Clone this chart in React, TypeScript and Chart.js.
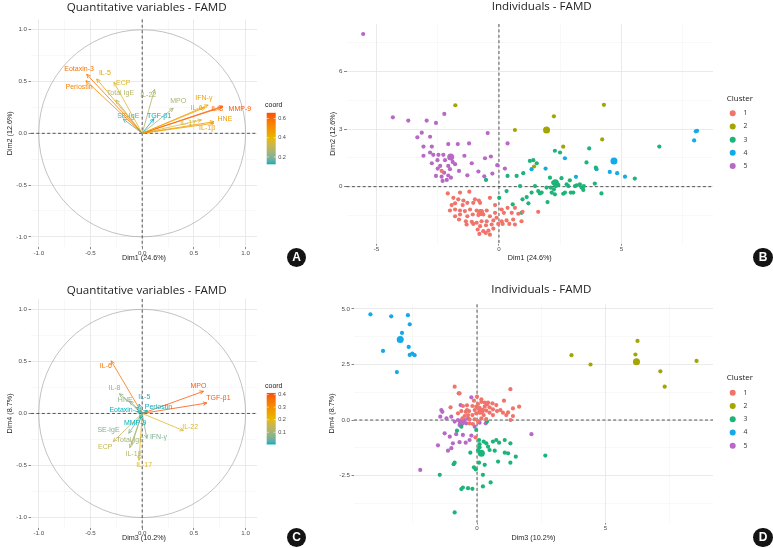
import React, { useEffect, useRef } from "react";
import { Chart, registerables } from "chart.js";
Chart.register(...registerables);

type Pt = [number, number];

// ---------------- Variables (panels A and C) ----------------
const varNames = ["Eotaxin-3", "Periostin", "IL-5", "ECP", "Total IgE", "SE-IgE", "IL-22", "MPO", "TGF-β1", "IFN-γ", "IL-6", "IL-8", "MMP-9", "HNE", "IL-1β", "IL-17"];

// Panel A: Dim1 / Dim2
const dim1 = [-0.537, -0.544, -0.44, -0.273, -0.254, -0.184, 0.12, 0.3, 0.113, 0.638, 0.606, 0.767, 0.78, 0.693, 0.693, 0.574];
const dim2 = [0.57, 0.508, 0.525, 0.493, 0.322, 0.138, 0.425, 0.242, 0.141, 0.273, 0.248, 0.25, 0.262, 0.112, 0.097, 0.129];
const coordA = [0.58, 0.54, 0.455, 0.365, 0.285, 0.15, 0.274, 0.258, 0.124, 0.455, 0.445, 0.61, 0.645, 0.477, 0.47, 0.36];
const labelAx = [-0.61, -0.61, -0.36, -0.183, -0.21, -0.135, 0.058, 0.348, 0.164, 0.596, 0.525, 0.725, 0.944, 0.8, 0.628, 0.444];
const labelAy = [0.62, 0.45, 0.58, 0.483, 0.386, 0.17, 0.37, 0.312, 0.17, 0.338, 0.245, 0.232, 0.232, 0.135, 0.048, 0.097];
const coordDomainA: Pt = [0.124, 0.659];
const coordTicksA = [0.2, 0.4, 0.6];

// Panel C: Dim3 / Dim4
const dim3 = [-0.05, 0.05, -0.03, -0.28, -0.1, -0.13, 0.4, 0.592, 0.625, 0.045, -0.3, -0.22, -0.02, -0.12, -0.12, -0.03];
const dim4 = [0.02, 0.03, 0.09, -0.27, -0.3, -0.19, -0.165, 0.213, 0.1, -0.24, 0.505, 0.19, -0.05, 0.12, -0.33, -0.45];
const coordC = [0.003, 0.004, 0.01, 0.15, 0.1, 0.06, 0.187, 0.396, 0.4, 0.06, 0.345, 0.085, 0.003, 0.07, 0.123, 0.2];
const labelCx = [-0.174, 0.157, 0.02, -0.357, -0.116, -0.326, 0.464, 0.544, 0.737, 0.157, -0.351, -0.268, -0.068, -0.164, -0.084, 0.019];
const labelCy = [0.036, 0.061, 0.157, -0.319, -0.254, -0.164, -0.132, 0.264, 0.152, -0.222, 0.454, 0.248, -0.09, 0.132, -0.389, -0.496];
const coordDomainC: Pt = [0.003, 0.413];
const coordTicksC = [0.1, 0.2, 0.3, 0.4];

const varMajor = [-1, -0.5, 0, 0.5, 1];
const varMinor = [-0.75, -0.25, 0.25, 0.75];

// ---------------- Individuals (panels B and D) ----------------
const clusterNames = ["1", "2", "3", "4", "5"];
const clusterColors = ["#F0746B", "#A3A500", "#1DB47A", "#12AAE8", "#B868C6"];

// Panel B: Dim1 / Dim2
const clusterB1: Pt[] = [
  [-2.09, -0.35], [-1.59, -0.31], [-1.21, -0.26], [-1.86, -0.58], [-1.66, -0.66], [-1.45, -0.72], [-0.98, -0.66], [-0.82, -0.72],
  [-0.37, -0.58], [-1.79, -0.87], [-1.29, -0.84], [-1.05, -0.84], [-0.77, -0.84], [-2.0, -1.24], [-1.79, -1.19], [-1.59, -1.24],
  [-1.39, -1.27], [-1.18, -1.19], [-0.91, -1.24], [-0.71, -1.27], [-0.5, -1.24], [-0.16, -1.36], [0.11, -1.19], [0.35, -1.1],
  [0.65, -1.1], [-1.79, -1.54], [-1.59, -1.45], [-1.29, -1.54], [-1.07, -1.45], [-0.84, -1.48], [-0.64, -1.45], [-0.37, -1.54],
  [-0.1, -1.62], [0.2, -1.36], [0.52, -1.36], [0.79, -1.41], [0.96, -1.31], [-1.63, -1.71], [-1.35, -1.8], [-1.11, -1.83],
  [-0.91, -1.88], [-0.71, -1.8], [-0.5, -1.8], [-0.23, -1.76], [0.11, -1.8], [0.31, -1.76], [0.58, -1.71], [0.92, -1.8],
  [-1.32, -1.97], [-1.05, -1.94], [-0.77, -2.06], [-0.53, -2.01], [-0.3, -1.97], [-0.03, -1.94], [0.15, -1.94], [0.42, -1.94],
  [0.65, -1.97], [-0.87, -2.23], [-0.64, -2.32], [-0.43, -2.29], [-0.23, -2.18], [-0.8, -2.46], [-0.54, -2.41], [-0.37, -2.5],
  [1.6, -1.31], [-2.34, 0.82], [-1.93, -0.96], [-0.16, -0.96], [-1.48, -0.96],
];
const clusterB2: Pt[] = [[-1.78, 4.24], [0.65, 2.95], [2.24, 3.66], [2.62, 2.08], [4.28, 4.26], [4.21, 2.46], [1.43, 1.05]];
const clusterB3: Pt[] = [
  [-0.53, 0.35], [0.01, -0.58], [0.31, -0.23], [0.35, 0.56], [0.56, -0.92], [0.72, 0.56], [0.86, 0.03], [0.92, -1.36],
  [0.99, 0.7], [0.96, -0.66], [1.13, -0.54], [1.2, -0.87], [1.26, 1.34], [1.33, -0.31], [1.4, 1.38], [1.54, 1.22],
  [1.6, -0.23], [1.67, -0.35], [1.74, -0.31], [1.47, 0.03], [1.98, -0.8], [2.08, 0.47], [2.11, -0.05], [2.15, -0.31],
  [2.21, 0.21], [2.28, 1.87], [2.35, 0.16], [2.32, 0.03], [2.42, 0.09], [2.49, 1.78], [2.55, 0.44], [2.62, -0.37],
  [2.69, -0.31], [2.76, 0.12], [2.83, 0.03], [2.89, 0.33], [2.93, -0.31], [3.03, -0.31], [3.1, 0.03], [3.17, 0.07],
  [3.3, 0.12], [3.37, -0.05], [3.44, -0.17], [3.46, 0.03], [3.57, 1.26], [3.68, 1.99], [3.95, 0.99], [3.91, 0.16],
  [4.18, -0.35], [6.54, 2.09], [5.54, 0.42], [2.28, -0.4], [1.94, -0.05], [2.24, -0.14],
];
const clusterB4: Pt[] = [[1.33, 0.91], [1.9, 0.94], [2.69, 1.48], [3.14, 0.51], [3.98, 0.91], [4.52, 0.77], [4.82, 0.7], [5.14, 0.52], [7.96, 2.41], [8.03, 2.88], [8.08, 2.91]];
const clusterB5: Pt[] = [
  [-4.33, 3.61], [-3.7, 3.44], [-2.95, 3.44], [-2.57, 3.32], [-2.23, 3.79], [-3.15, 2.81], [-2.81, 2.6], [-3.33, 2.57],
  [-0.46, 2.79], [-3.08, 2.09], [-2.74, 2.09], [-2.07, 2.22], [-1.68, 2.22], [-1.22, 2.25], [0.35, 2.25], [-2.81, 1.78],
  [-2.68, 1.66], [-2.47, 1.66], [-2.27, 1.66], [-3.08, 1.61], [-1.41, 1.61], [-0.57, 1.48], [-0.33, 1.57], [-2.74, 1.22],
  [-2.51, 1.38], [-2.2, 1.38], [-1.89, 1.29], [-1.11, 1.22], [-0.07, 1.12], [0.24, 0.94], [-2.5, 0.94], [-2.24, 0.73],
  [-2.0, 0.91], [-1.63, 0.82], [-1.29, 0.59], [-0.84, 0.79], [-0.27, 0.68], [-0.6, 0.54], [-2.57, 0.56], [-2.34, 0.52],
  [-2.07, 0.58], [-1.96, 0.47], [-2.3, 0.3], [-2.13, 0.35], [-1.79, 1.17], [-2.4, 1.08], [-2.07, 1.08], [-5.54, 7.95],
];
const meanB: Pt[] = [[-0.75, -1.35], [1.94, 2.95], [2.3, 0.2], [4.69, 1.34], [-1.97, 1.55]];

// Panel D: Dim3 / Dim4
const clusterD1: Pt[] = [
  [-0.87, 1.5], [1.3, 1.39], [-0.68, 1.2], [1.05, 0.87], [-1.03, 0.57], [-0.55, 0.63], [-0.39, 0.66], [-0.18, 0.63],
  [0.04, 0.72], [0.17, 0.82], [0.3, 0.78], [0.43, 0.78], [0.6, 0.75], [0.75, 0.67], [0.91, 0.45], [1.01, 0.33],
  [1.21, 0.34], [1.4, 0.52], [1.64, 0.6], [-0.61, 0.4], [-0.44, 0.37], [-0.31, 0.4], [-0.09, 0.45], [0.1, 0.55],
  [0.23, 0.45], [0.36, 0.42], [0.49, 0.57], [0.62, 0.48], [0.78, 0.4], [0.62, 0.22], [-0.35, 0.22], [-0.18, 0.22],
  [-0.03, 0.3], [0.1, 0.33], [0.26, 0.22], [-0.48, 0.18], [-0.74, 0.3], [-0.57, 0.07], [-0.29, 0.03], [-0.09, 0.03],
  [0.17, 0.07], [0.36, 0.04], [1.31, 0.0], [1.14, 0.22], [1.4, 0.18], [0.0, 1.05], [-0.03, 0.6], [0.13, 0.37],
  [0.39, 0.7], [0.17, 0.93], [0.04, -0.07], [-0.16, -0.18], [-0.06, -0.78], [-0.29, -0.15], [0.3, 0.6], [-0.12, 0.87],
  [0.49, 0.33], [-0.39, 0.45],
];
const clusterD2: Pt[] = [[3.68, 2.92], [4.42, 2.5], [6.25, 3.56], [6.17, 2.95], [7.14, 2.19], [7.31, 1.5], [8.55, 2.66]];
const clusterD3: Pt[] = [
  [0.39, -0.07], [-0.03, -0.45], [0.08, -0.9], [0.26, -0.97], [0.36, -1.05], [0.1, -1.09], [0.43, -1.2], [0.62, -0.97],
  [0.75, -0.9], [0.86, -1.02], [1.08, -0.9], [1.3, -1.05], [0.04, -1.35], [-0.26, -1.47], [0.49, -1.35], [0.69, -1.38],
  [1.08, -1.47], [1.21, -1.5], [1.51, -1.65], [2.66, -1.6], [0.82, -1.87], [1.3, -1.92], [0.08, -1.92], [0.3, -2.02],
  [-0.12, -2.13], [-0.05, -2.22], [-0.87, -1.92], [-0.91, -1.99], [0.23, -2.47], [-1.45, -2.47], [0.53, -2.81], [0.23, -2.99],
  [-0.55, -3.04], [-0.35, -3.07], [-0.18, -3.1], [-0.61, -3.11], [-0.87, -4.16], [-0.61, -0.3], [-0.78, -0.48], [0.1, -1.23],
];
const clusterD4: Pt[] = [[-4.15, 4.76], [-3.34, 4.67], [-2.69, 4.72], [-2.62, 4.31], [-2.92, 3.92], [-3.66, 3.11], [-2.66, 3.29], [-2.62, 2.93], [-2.52, 2.99], [-2.43, 2.92], [-3.12, 2.16]];
const clusterD5: Pt[] = [
  [-0.71, 1.2], [-0.22, 1.02], [-1.39, 0.45], [-0.64, 0.67], [-1.35, 0.37], [-1.43, 0.15], [-1.19, 0.07], [-1.0, 0.15],
  [-0.74, 0.0], [-0.48, 0.0], [-0.35, 0.07], [-0.87, -0.07], [-0.68, -0.22], [-0.42, -0.15], [0.34, -0.15], [-1.26, -0.6],
  [-1.06, -0.75], [-0.81, -0.64], [-0.55, -0.67], [-0.22, -0.7], [-0.94, -1.05], [-0.68, -1.0], [-0.44, -1.02], [-0.29, -0.9],
  [-1.52, -1.14], [-1.13, -1.38], [-1.0, -1.27], [2.12, -0.64], [-2.21, -2.25], [0.1, -0.12], [-0.09, -0.3],
];
const meanD: Pt[] = [[0.15, 0.4], [6.21, 2.62], [0.17, -1.5], [-2.99, 3.62], [-0.6, -0.1]];

const indXMajorB = [-5, 0, 5];
const indXMinorB = [-2.5, 2.5, 7.5];
const indYMajorB = [0, 3, 6];
const indYMinorB = [-1.5, 1.5, 4.5, 7.5];
const indXMajorD = [0, 5];
const indXMinorD = [-2.5, 2.5, 7.5];
const indYMajorD = [-2.5, 0, 2.5, 5];
const indYMinorD = [-3.75, -1.25, 1.25, 3.75];

// ---------------- styling helpers ----------------
const SANS = "'Liberation Sans', Arial, sans-serif";
const TFONT = "'Open Sans', 'Noto Sans', sans-serif";
const GRAD = ["#00AFBB", "#E7B800", "#FC4E07"];

function hex2rgb(h: string) {
  return [parseInt(h.slice(1, 3), 16), parseInt(h.slice(3, 5), 16), parseInt(h.slice(5, 7), 16)];
}
function rgb2lab(c: number[]) {
  const lin = (v: number) => { v /= 255; return v <= 0.04045 ? v / 12.92 : Math.pow((v + 0.055) / 1.055, 2.4); };
  const R = lin(c[0]), G = lin(c[1]), B = lin(c[2]);
  const X = (0.4124 * R + 0.3576 * G + 0.1805 * B) / 0.95047;
  const Y = 0.2126 * R + 0.7152 * G + 0.0722 * B;
  const Z = (0.0193 * R + 0.1192 * G + 0.9505 * B) / 1.08883;
  const f = (t: number) => (t > 0.008856 ? Math.cbrt(t) : 7.787 * t + 16 / 116);
  const fx = f(X), fy = f(Y), fz = f(Z);
  return [116 * fy - 16, 500 * (fx - fy), 200 * (fy - fz)];
}
function lab2rgb(l: number[]) {
  const fy = (l[0] + 16) / 116, fx = fy + l[1] / 500, fz = fy - l[2] / 200;
  const inv = (t: number) => (t * t * t > 0.008856 ? t * t * t : (t - 16 / 116) / 7.787);
  const X = inv(fx) * 0.95047, Y = inv(fy), Z = inv(fz) * 1.08883;
  const R = 3.2406 * X - 1.5372 * Y - 0.4986 * Z;
  const G = -0.9689 * X + 1.8758 * Y + 0.0415 * Z;
  const B = 0.0557 * X - 0.204 * Y + 1.057 * Z;
  const g = (v: number) => {
    v = v <= 0.0031308 ? 12.92 * v : 1.055 * Math.pow(v, 1 / 2.4) - 0.055;
    return Math.round(Math.max(0, Math.min(1, v)) * 255);
  };
  return [g(R), g(G), g(B)];
}
const GRAD_LAB = GRAD.map((h) => rgb2lab(hex2rgb(h)));
function gradColor(t: number) {
  t = Math.max(0, Math.min(1, t));
  const seg = t < 0.5 ? 0 : 1;
  const u = seg === 0 ? t / 0.5 : (t - 0.5) / 0.5;
  const a = GRAD_LAB[seg], b = GRAD_LAB[seg + 1];
  const rgb = lab2rgb([a[0] + (b[0] - a[0]) * u, a[1] + (b[1] - a[1]) * u, a[2] + (b[2] - a[2]) * u]);
  return `rgb(${rgb[0]},${rgb[1]},${rgb[2]})`;
}

function axis(o: any) {
  const all = [...o.major, ...o.minor].sort((a: number, b: number) => a - b);
  const isMajor = (c: any) => c.tick && o.major.includes(c.tick.value);
  return {
    type: "linear",
    min: o.min,
    max: o.max,
    afterBuildTicks: (s: any) => { s.ticks = all.map((v: number) => ({ value: v })); },
    afterFit: (s: any) => { if (o.horizontal) s.height = o.size; else s.width = o.size; },
    border: { display: false },
    grid: {
      color: (c: any) => (isMajor(c) ? "#E4E4E4" : "#F0F0F0"),
      lineWidth: (c: any) => (isMajor(c) ? 0.8 : 0.5),
      tickColor: (c: any) => (isMajor(c) ? "#555555" : "rgba(0,0,0,0)"),
      tickLength: o.horizontal ? 2 : 2.5,
      tickWidth: 0.7,
    },
    ticks: {
      autoSkip: false,
      maxRotation: 0,
      padding: o.horizontal ? 0 : 1.5,
      color: "#4D4D4D",
      font: { family: SANS, size: 6.2 },
      callback: (v: number) => (o.major.includes(v) ? o.fmt(v) : ""),
    },
    title: {
      display: true,
      text: o.title,
      color: "#222222",
      font: { family: SANS, size: 7.2 },
      padding: o.horizontal ? { top: 0, bottom: o.titlePad } : { top: o.titlePad, bottom: 0 },
    },
  };
}

function dashedLines(chart: any) {
  const { ctx, chartArea: a, scales } = chart;
  const x0 = scales.x.getPixelForValue(0), y0 = scales.y.getPixelForValue(0);
  ctx.save();
  ctx.setLineDash([3, 2.4]);
  ctx.strokeStyle = "#2B2B2B";
  ctx.lineWidth = 0.8;
  ctx.beginPath();
  ctx.moveTo(a.left, y0); ctx.lineTo(a.right, y0);
  ctx.moveTo(x0, a.top); ctx.lineTo(x0, a.bottom);
  ctx.stroke();
  ctx.restore();
}

function drawTitle(chart: any, text: string, pos: Pt) {
  const { ctx } = chart;
  ctx.save();
  ctx.font = `11.6px ${TFONT}`;
  ctx.fillStyle = "#222222";
  ctx.textAlign = "center";
  ctx.textBaseline = "middle";
  ctx.fillText(text, pos[0], pos[1]);
  ctx.restore();
}

function varConfig(p: any) {
  const colors = p.coord.map((c: number) => gradColor((c - p.domain[0]) / (p.domain[1] - p.domain[0])));
  const datasets = varNames.map((n, i) => ({
    label: n,
    data: [{ x: 0, y: 0 }, { x: p.xs[i], y: p.ys[i] }],
    showLine: true,
    borderColor: colors[i],
    borderWidth: 0.8,
    pointRadius: 0,
    pointHoverRadius: 0,
  }));
  const plugin = {
    id: "varDecor",
    beforeDatasetsDraw(chart: any) {
      const { ctx, scales } = chart;
      const cx = scales.x.getPixelForValue(0), cy = scales.y.getPixelForValue(0);
      const rx = scales.x.getPixelForValue(1) - cx, ry = cy - scales.y.getPixelForValue(1);
      ctx.save();
      ctx.strokeStyle = "#A8A8A8";
      ctx.lineWidth = 0.7;
      ctx.beginPath();
      ctx.ellipse(cx, cy, rx, ry, 0, 0, Math.PI * 2);
      ctx.stroke();
      ctx.restore();
      dashedLines(chart);
    },
    afterDatasetsDraw(chart: any) {
      const { ctx, scales, chartArea: a } = chart;
      ctx.save();
      const head = 4.2, ang = Math.PI / 7;
      chart.data.datasets.forEach((ds: any, i: number) => {
        const m = chart.getDatasetMeta(i);
        const p0 = m.data[0], p1 = m.data[1];
        const t = Math.atan2(p1.y - p0.y, p1.x - p0.x);
        ctx.strokeStyle = ds.borderColor;
        ctx.lineWidth = 0.8;
        ctx.beginPath();
        ctx.moveTo(p1.x - head * Math.cos(t - ang), p1.y - head * Math.sin(t - ang));
        ctx.lineTo(p1.x, p1.y);
        ctx.lineTo(p1.x - head * Math.cos(t + ang), p1.y - head * Math.sin(t + ang));
        ctx.stroke();
      });
      ctx.font = `7px ${SANS}`;
      ctx.textAlign = "center";
      ctx.textBaseline = "middle";
      varNames.forEach((n, i) => {
        ctx.fillStyle = colors[i];
        ctx.fillText(n, scales.x.getPixelForValue(p.lx[i]), scales.y.getPixelForValue(p.ly[i]));
      });
      // colour bar legend
      const mid = (a.top + a.bottom) / 2;
      const bx = a.right + 9.7, bw = 9, bt = mid - 20.5, bb = mid + 31;
      const g = ctx.createLinearGradient(0, bb, 0, bt);
      for (let k = 0; k <= 20; k++) g.addColorStop(k / 20, gradColor(k / 20));
      ctx.fillStyle = g;
      ctx.fillRect(bx, bt, bw, bb - bt);
      ctx.font = `5.6px ${SANS}`;
      ctx.textAlign = "left";
      p.cbTicks.forEach((v: number) => {
        const py = bb - ((v - p.domain[0]) / (p.domain[1] - p.domain[0])) * (bb - bt);
        ctx.strokeStyle = "#FFFFFF";
        ctx.lineWidth = 0.6;
        ctx.beginPath();
        ctx.moveTo(bx, py); ctx.lineTo(bx + 2, py);
        ctx.moveTo(bx + bw - 2, py); ctx.lineTo(bx + bw, py);
        ctx.stroke();
        ctx.fillStyle = "#4D4D4D";
        ctx.fillText(v.toFixed(1), bx + bw + 2.5, py);
      });
      ctx.fillStyle = "#222222";
      ctx.font = `7px ${SANS}`;
      ctx.fillText("coord", a.right + 8, mid - 27.8);
      ctx.restore();
    },
    afterDraw(chart: any) { drawTitle(chart, "Quantitative variables - FAMD", p.titlePos); },
  };
  return {
    type: "scatter",
    data: { datasets },
    plugins: [plugin],
    options: {
      animation: false,
      responsive: false,
      devicePixelRatio: 1,
      events: [],
      layout: { padding: { left: 0, right: p.padRight, top: p.areaTop, bottom: 0 } },
      plugins: { legend: { display: false }, tooltip: { enabled: false }, title: { display: false } },
      scales: {
        x: axis({ horizontal: true, min: -1.075, max: 1.11, major: varMajor, minor: varMinor, fmt: (v: number) => v.toFixed(1), size: p.xSize, title: p.xTitle, titlePad: p.xTitlePad }),
        y: axis({ horizontal: false, min: -1.1, max: 1.1, major: varMajor, minor: varMinor, fmt: (v: number) => v.toFixed(1), size: 31, title: p.yTitle, titlePad: 6.2 }),
      },
    },
  };
}

function indConfig(p: any) {
  const datasets: any[] = p.clusters.map((pts: Pt[], i: number) => ({
    label: clusterNames[i],
    data: pts.map(([x, y]) => ({ x, y })),
    pointRadius: 2.1,
    pointHoverRadius: 2.1,
    pointBorderWidth: 0,
    pointBackgroundColor: clusterColors[i],
    pointBorderColor: clusterColors[i],
  }));
  datasets.push({
    label: "mean",
    data: p.means.map(([x, y]: Pt) => ({ x, y })),
    pointRadius: 3.5,
    pointHoverRadius: 3.5,
    pointBorderWidth: 0,
    pointBackgroundColor: clusterColors,
    pointBorderColor: clusterColors,
  });
  const plugin = {
    id: "indDecor",
    beforeDatasetsDraw(chart: any) { dashedLines(chart); },
    afterDraw(chart: any) {
      const { ctx, chartArea: a } = chart;
      const mid = (a.top + a.bottom) / 2;
      ctx.save();
      ctx.textAlign = "left";
      ctx.textBaseline = "middle";
      ctx.fillStyle = "#222222";
      ctx.font = `8px ${TFONT}`;
      ctx.fillText("Cluster", a.right + 13.7, mid - 35.5);
      clusterNames.forEach((n, i) => {
        const y = mid - 20.6 + i * 13.2;
        ctx.fillStyle = clusterColors[i];
        ctx.beginPath();
        ctx.arc(a.right + 19.7, y, 3, 0, Math.PI * 2);
        ctx.fill();
        ctx.fillStyle = "#333333";
        ctx.font = `6.8px ${TFONT}`;
        ctx.fillText(n, a.right + 30.5, y);
      });
      ctx.restore();
      drawTitle(chart, "Individuals - FAMD", p.titlePos);
    },
  };
  return {
    type: "scatter",
    data: { datasets },
    plugins: [plugin],
    options: {
      animation: false,
      responsive: false,
      devicePixelRatio: 1,
      events: [],
      layout: { padding: { left: 0, right: 58, top: p.areaTop, bottom: 0 } },
      plugins: { legend: { display: false }, tooltip: { enabled: false }, title: { display: false } },
      scales: {
        x: axis({ horizontal: true, min: p.xr[0], max: p.xr[1], major: p.xMajor, minor: p.xMinor, fmt: p.xFmt, size: p.xSize, title: p.xTitle, titlePad: p.xTitlePad }),
        y: axis({ horizontal: false, min: p.yr[0], max: p.yr[1], major: p.yMajor, minor: p.yMinor, fmt: p.yFmt, size: p.ySize, title: p.yTitle, titlePad: p.yTitlePad }),
      },
    },
  };
}

function ChartCanvas({ left, top, width, height, make }: any) {
  const ref = useRef<HTMLCanvasElement>(null);
  useEffect(() => {
    const chart = new Chart(ref.current as HTMLCanvasElement, make() as any);
    return () => chart.destroy();
  }, []);
  return <canvas ref={ref} width={width} height={height} style={{ position: "absolute", left, top, width, height }} />;
}

function Badge({ cx, cy, text }: any) {
  const r = 9.7;
  return (
    <div
      style={{
        position: "absolute", left: cx - r, top: cy - r, width: 2 * r, height: 2 * r, borderRadius: "50%",
        background: "#141414", color: "#ffffff", font: `bold 12px ${SANS}`, display: "flex",
        alignItems: "center", justifyContent: "center", lineHeight: 1,
      }}
    >
      {text}
    </div>
  );
}

export default function App() {
  return (
    <div style={{ position: "absolute", left: 0, top: 0, width: 773, height: 548, background: "#ffffff", overflow: "hidden" }}>
      <ChartCanvas
        left={0} top={0} width={294} height={270}
        make={() => varConfig({
          xs: dim1, ys: dim2, coord: coordA, lx: labelAx, ly: labelAy, domain: coordDomainA, cbTicks: coordTicksA,
          xTitle: "Dim1 (24.6%)", yTitle: "Dim2 (12.6%)", padRight: 37,
          titlePos: [146.7, 7.3], areaTop: 19.4, xSize: 22.8, xTitlePad: 7.2,
        })}
      />
      <ChartCanvas
        left={0} top={280} width={294} height={268}
        make={() => varConfig({
          xs: dim3, ys: dim4, coord: coordC, lx: labelCx, ly: labelCy, domain: coordDomainC, cbTicks: coordTicksC,
          xTitle: "Dim3 (10.2%)", yTitle: "Dim4 (8.7%)", padRight: 37,
          titlePos: [146.7, 10.5], areaTop: 18.9, xSize: 20, xTitlePad: 5.2,
        })}
      />
      <ChartCanvas
        left={312} top={0} width={459} height={270}
        make={() => indConfig({
          clusters: [clusterB1, clusterB2, clusterB3, clusterB4, clusterB5], means: meanB,
          xr: [-6.22, 8.73], yr: [-2.97, 8.47],
          xMajor: indXMajorB, xMinor: indXMinorB, yMajor: indYMajorB, yMinor: indYMinorB,
          xFmt: (v: number) => String(v), yFmt: (v: number) => String(v),
          xTitle: "Dim1 (24.6%)", yTitle: "Dim2 (12.6%)",
          titlePos: [229.7, 6.8], areaTop: 24, xSize: 26.3, xTitlePad: 7.2, ySize: 34.5, yTitlePad: 17,
        })}
      />
      <ChartCanvas
        left={312} top={280} width={459} height={268}
        make={() => indConfig({
          clusters: [clusterD1, clusterD2, clusterD3, clusterD4, clusterD5], means: meanD,
          xr: [-4.79, 9.19], yr: [-4.62, 5.21],
          xMajor: indXMajorD, xMinor: indXMinorD, yMajor: indYMajorD, yMinor: indYMinorD,
          xFmt: (v: number) => String(v), yFmt: (v: number) => v.toFixed(1),
          xTitle: "Dim3 (10.2%)", yTitle: "Dim4 (8.7%)",
          titlePos: [229.3, 10], areaTop: 24.3, xSize: 25.4, xTitlePad: 5.2, ySize: 42, yTitlePad: 15.5,
        })}
      />
      <Badge cx={296.5} cy={257.5} text="A" />
      <Badge cx={763} cy={257.5} text="B" />
      <Badge cx={296.5} cy={537.5} text="C" />
      <Badge cx={763} cy={537.5} text="D" />
    </div>
  );
}
